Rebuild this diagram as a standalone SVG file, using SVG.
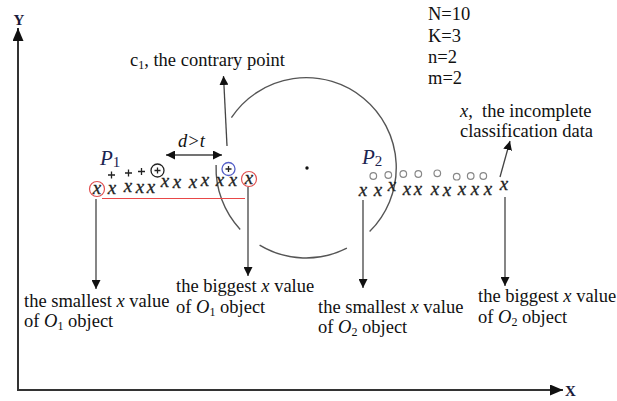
<svg xmlns="http://www.w3.org/2000/svg" width="617" height="401" viewBox="0 0 617 401">
<style>
.t{font-family:"Liberation Serif","Times New Roman",serif;font-size:18.5px;fill:#111}
.i{font-style:italic}
.xm{font-family:"Liberation Serif","Times New Roman",serif;font-style:italic;font-size:19px;fill:#222;stroke:#222;stroke-width:0.3;text-anchor:middle}
.ln{stroke:#444;stroke-width:1.3;fill:none}
.ax{stroke:#333;stroke-width:2;fill:none}
.arc{stroke:#555;stroke-width:1.4;fill:none}
.oc{stroke:#888;stroke-width:1.2;fill:none}
.pl{stroke:#222;stroke-width:1.3;fill:none}
.lab{font-family:"Liberation Serif","Times New Roman",serif;font-weight:bold;font-size:15px;fill:#1a1a3a}
.P{font-family:"Liberation Serif","Times New Roman",serif;font-style:italic;font-size:21px;fill:#1c2450}
</style>
<defs>
<marker id="ah" markerUnits="userSpaceOnUse" markerWidth="9" markerHeight="9" refX="9" refY="4.5" orient="auto-start-reverse"><path d="M0,0 L9,4.5 L0,9 z" fill="#111"/></marker>
<marker id="axh" markerUnits="userSpaceOnUse" markerWidth="13" markerHeight="11" refX="13" refY="5.5" orient="auto"><path d="M0,0 L13,5.5 L0,11 z" fill="#111"/></marker>
</defs>

<g id="axes">
<line class="ax" x1="18" y1="390" x2="18" y2="28" marker-end="url(#axh)"/>
<line class="ax" x1="17" y1="390" x2="563" y2="390" marker-end="url(#axh)"/>
<text class="lab" x="19" y="25" text-anchor="middle">Y</text>
<text class="lab" x="565" y="396">X</text>
</g>

<g id="params">
<text class="t" x="428" y="20">N=10</text>
<text class="t" x="428" y="42">K=3</text>
<text class="t" x="428" y="63">n=2</text>
<text class="t" x="428" y="84">m=2</text>
</g>

<g id="neighborhood">
<path class="arc" d="M231.4,117.7 A90,90 0 1 1 369.6,231.6"/>
<path class="arc" d="M346.9,248.2 A90,90 0 0 1 259.6,245.1"/>
<path class="arc" d="M240.2,229.4 A90,90 0 0 1 216.1,164.9"/>
<circle cx="307" cy="168" r="1.7" fill="#111"/>
</g>

<g id="P1">
<text class="P" x="100" y="165">P<tspan font-style="normal" font-size="15" dy="2">1</tspan></text>
<g class="pl">
<path d="M108,175 h7 M111.5,171.5 v7"/>
<path d="M125,173 h7 M128.5,169.5 v7"/>
<path d="M138,171.5 h7 M141.5,168 v7"/>
<circle cx="157.5" cy="170.5" r="6.5"/>
<path d="M154.5,170.5 h6 M157.5,167.5 v6"/>
</g>
<circle cx="228.5" cy="169" r="6.5" stroke="#5560c8" stroke-width="1.3" fill="none"/>
<path class="pl" d="M225.5,169 h6 M228.5,166 v6"/>
<text class="xm" x="97" y="194">x</text>
<text class="xm" x="112" y="194">x</text>
<text class="xm" x="128" y="192">x</text>
<text class="xm" x="140" y="193">x</text>
<text class="xm" x="151" y="193">x</text>
<text class="xm" x="165" y="187">x</text>
<text class="xm" x="177" y="188">x</text>
<text class="xm" x="193" y="188">x</text>
<text class="xm" x="205" y="186">x</text>
<text class="xm" x="220" y="186">x</text>
<text class="xm" x="233" y="186">x</text>
<text class="xm" x="249" y="184">x</text>
<circle cx="97" cy="189" r="7.5" stroke="#e05050" stroke-width="1.2" fill="none"/>
<circle cx="249" cy="179" r="7.5" stroke="#e05050" stroke-width="1.2" fill="none"/>
<line x1="102" y1="198.5" x2="245" y2="198.5" stroke="#e84848" stroke-width="1.2"/>
</g>

<g id="P2">
<text class="P" x="362" y="164">P<tspan font-style="normal" font-size="15" dy="2">2</tspan></text>
<circle class="oc" cx="373.3" cy="176" r="3.3"/>
<circle class="oc" cx="388.3" cy="175" r="3.3"/>
<circle class="oc" cx="403.3" cy="174" r="3.3"/>
<circle class="oc" cx="418.3" cy="174" r="3.3"/>
<circle class="oc" cx="437.3" cy="173.3" r="3.3"/>
<circle class="oc" cx="456.7" cy="176.7" r="3.3"/>
<circle class="oc" cx="470.7" cy="176" r="3.3"/>
<circle class="oc" cx="483.3" cy="176" r="3.3"/>
<text class="xm" x="363" y="196">x</text>
<text class="xm" x="378" y="196">x</text>
<text class="xm" x="392" y="191">x</text>
<text class="xm" x="407" y="195">x</text>
<text class="xm" x="418" y="195">x</text>
<text class="xm" x="435" y="195">x</text>
<text class="xm" x="447" y="196">x</text>
<text class="xm" x="462" y="195">x</text>
<text class="xm" x="475" y="195">x</text>
<text class="xm" x="488" y="195">x</text>
<text class="xm" x="504" y="190">x</text>
</g>

<g id="connectors">
<line class="ln" x1="227" y1="146" x2="223.5" y2="76" marker-end="url(#ah)"/>
<line class="ln" x1="166" y1="155" x2="222" y2="155" marker-start="url(#ah)" marker-end="url(#ah)"/>
<line class="ln" x1="96" y1="199" x2="96" y2="289" marker-end="url(#ah)"/>
<line class="ln" x1="248" y1="187" x2="248" y2="276" marker-end="url(#ah)"/>
<line class="ln" x1="363" y1="200" x2="363" y2="288" marker-end="url(#ah)"/>
<line class="ln" x1="505" y1="197" x2="505" y2="286" marker-end="url(#ah)"/>
<line class="ln" x1="500" y1="177" x2="510" y2="141" marker-end="url(#ah)"/>
</g>

<g id="labels">
<text class="t" x="130" y="66">c<tspan font-size="12" dy="3">1</tspan><tspan dy="-3">, the contrary point</tspan></text>
<text class="t i" x="178" y="147">d&gt;t</text>
<text class="t" x="460" y="117"><tspan class="i">x</tspan>,&#160; the incomplete</text>
<text class="t" x="460" y="137">classification data</text>
<text class="t" x="24" y="307">the smallest <tspan class="i">x</tspan> value</text>
<text class="t" x="24" y="327">of <tspan class="i">O</tspan><tspan font-size="12" dy="3">1</tspan><tspan dy="-3"> object</tspan></text>
<text class="t" x="176" y="292">the biggest <tspan class="i">x</tspan> value</text>
<text class="t" x="176" y="313">of <tspan class="i">O</tspan><tspan font-size="12" dy="3">1</tspan><tspan dy="-3"> object</tspan></text>
<text class="t" x="318" y="313">the smallest <tspan class="i">x</tspan> value</text>
<text class="t" x="318" y="333">of <tspan class="i">O</tspan><tspan font-size="12" dy="3">2</tspan><tspan dy="-3"> object</tspan></text>
<text class="t" x="478" y="302">the biggest <tspan class="i">x</tspan> value</text>
<text class="t" x="478" y="323">of <tspan class="i">O</tspan><tspan font-size="12" dy="3">2</tspan><tspan dy="-3"> object</tspan></text>
</g>
</svg>
